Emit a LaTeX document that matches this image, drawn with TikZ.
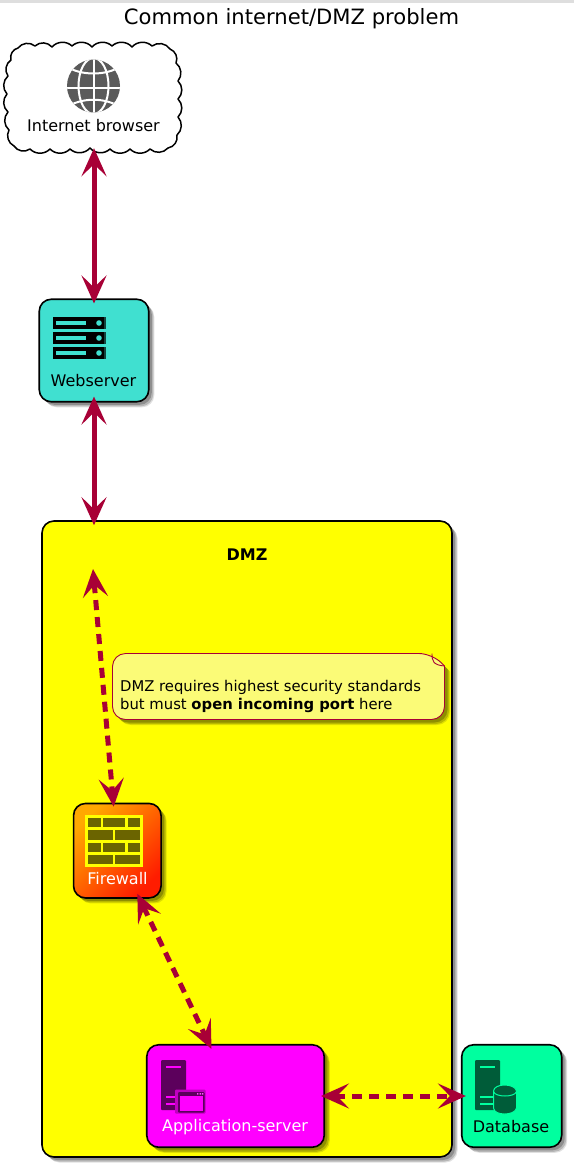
\documentclass[tikz,border=0pt]{standalone}
\usepackage{fontspec}
\setmainfont{DejaVu Sans}
\usetikzlibrary{arrows.meta,shadows}
\definecolor{linkc}{HTML}{A80036}
\definecolor{notec}{HTML}{FBFB77}
\definecolor{webc}{HTML}{40E0D0}
\definecolor{dbc}{HTML}{00FF9F}
\definecolor{mag}{HTML}{FF00FF}
\definecolor{maghalo}{HTML}{C000C0}
\definecolor{yel}{HTML}{FFFF00}
\definecolor{magdark}{HTML}{5C005C}
\definecolor{dbdark}{HTML}{005C39}
\definecolor{brick}{HTML}{6B6400}
\definecolor{globec}{HTML}{5A5A5A}
\definecolor{fwa}{HTML}{FFA800}
\definecolor{fwb}{HTML}{FF1C00}
\tikzset{
  softshadow/.style={
    drop shadow={shadow xshift=5.5pt,shadow yshift=-5.5pt,opacity=.12,fill=black},
    drop shadow={shadow xshift=4.5pt,shadow yshift=-4.5pt,opacity=.18,fill=black},
    drop shadow={shadow xshift=3pt,shadow yshift=-3pt,opacity=.22,fill=black}},
  boxnode/.style={draw=black,line width=1.6pt,rounded corners=12pt,inner sep=0pt,softshadow},
  lbl/.style={font=\fontsize{16}{18}\selectfont,inner sep=0pt},
  solidlink/.style={linkc,line width=5pt,{Stealth[length=28pt,width=25pt,inset=12pt]}-{Stealth[length=28pt,width=25pt,inset=12pt]}},
  dashlink/.style={solidlink,dash pattern=on 10pt off 7pt}
}
\begin{document}
\begin{tikzpicture}[x=1pt,y=-1pt]
\useasboundingbox (0,0) rectangle (574,1168);
\fill[white] (0,0) rectangle (574,1168);
\fill[black!13] (0,0) rectangle (574,3);
\node[font=\fontsize{21.1}{24}\selectfont,inner sep=0pt] (title) at (291.5,18.5) {Common internet/DMZ problem};
% cloud
\draw[black,line width=1.5pt,fill=white,line join=round]
  (18,48) foreach \p/\q in {35/46,52/47,72/46,92/47,112/46,132/47,152/46,170/49,176/63,178/81,178/99,178/117,177/135,168/148,150/149,130/149,110/149,90/148,70/149,50/149,30/149,14/146,9/130,8/112,7/94,8/76,11/60,18/48} { to[bend left=46] (\p,\q) };
\node[inner sep=0pt,minimum width=170pt,minimum height=106pt] (inet) at (94,99) {};
\fill[globec] (93.5,86) circle[radius=26.5pt];
\begin{scope}
\clip (93.5,86) circle[radius=26.5pt];
\draw[white,line width=2pt] (93.5,55) -- (93.5,117);
\draw[white,line width=2pt] (93.5,86) ellipse[x radius=15pt,y radius=28pt];
\draw[white,line width=2pt] (60,88) -- (128,88);
\draw[white,line width=2pt] (66,66) .. controls (80,76) and (107,76) .. (121,66);
\draw[white,line width=2pt] (66,108) .. controls (80,97) and (107,97) .. (121,108);
\end{scope}
\node[lbl] (inetl) at (93.5,126) {Internet browser};
% webserver
\node[boxnode,fill=webc,minimum width=109.5pt,minimum height=102.5pt] (web) at (94,350.5) {};
\foreach \yy in {317,332,347}{
  \fill[black!70!webc] (53,\yy) rectangle (106,\yy+12);
  \fill[black] (53,\yy) rectangle (104,\yy+12);
  \fill[webc] (56,\yy+4) rectangle (86,\yy+8);
  \fill[webc] (99,\yy+6) circle[radius=2.8pt];
}
\node[lbl] (webl) at (93.5,381) {Webserver};
% DMZ
\node[boxnode,fill=yel,minimum width=410pt,minimum height=636pt] (dmz) at (247,839) {};
\node[font=\fontsize{16}{18}\selectfont\bfseries,inner sep=0pt] (dmzl) at (247,555) {DMZ};
\coordinate (dmzin) at (93,569);
% note
\draw[linkc,line width=.9pt,fill=notec,softshadow,rounded corners=13pt]
  (112.5,653.5) -- (432,653.5) [sharp corners] -- (444.5,666) [rounded corners=13pt] -- (444.5,719.5) -- (112.5,719.5) -- cycle;
\draw[linkc,line width=.9pt] (432,653.5) .. controls (432,661) and (433,665) .. (444.5,666);
\node[font=\fontsize{14.8}{18}\selectfont,inner sep=0pt,align=left,anchor=north west] (note) at (120,680.5) {DMZ requires highest security standards\\but must \textbf{open incoming port} here};
% firewall
\node[boxnode,left color=fwa,right color=fwb,shading angle=45,minimum width=87.5pt,minimum height=94.5pt] (fw) at (117.3,850.7) {};
\fill[yel] (85,815) rectangle (143,867);
\foreach \yy/\hh in {818/9.3,842.8/9.5}{
  \fill[brick] (88.3,\yy) rectangle (100.7,\yy+\hh);
  \fill[brick] (103,\yy) rectangle (125.3,\yy+\hh);
  \fill[brick] (128,\yy) rectangle (140,\yy+\hh);
}
\foreach \yy/\hh in {830/10,855/9.3}{
  \fill[brick] (88.3,\yy) rectangle (113.3,\yy+\hh);
  \fill[brick] (115,\yy) rectangle (140,\yy+\hh);
}
\node[lbl,text=white] (fwl) at (117.5,878.5) {Firewall};
% app
\node[boxnode,fill=mag,minimum width=177.5pt,minimum height=102.5pt] (app) at (235.5,1096) {};
\fill[magdark,rounded corners=1pt] (161,1060) rectangle (186,1110);
\fill[mag] (165.7,1065.7) rectangle (181,1067.7);
\fill[mag] (165.7,1096) rectangle (175,1098);
\fill[mag] (165.7,1102.5) rectangle (175,1104.5);
\fill[maghalo,rounded corners=1pt] (175,1089.5) rectangle (205.5,1113.5);
\fill[magdark,rounded corners=1pt] (178,1092) rectangle (204.5,1112.5);
\fill[mag] (179.5,1096) rectangle (203,1111);
\fill[mag!70!white] (197,1093.2) rectangle (198.4,1094.6) (199.6,1093.2) rectangle (201,1094.6) (202,1093.2) rectangle (203.4,1094.6);
\node[lbl,text=white] (appl) at (235,1127) {Application-server};
% database
\node[boxnode,fill=dbc,minimum width=100pt,minimum height=102.5pt] (db) at (511.7,1096) {};
\fill[dbdark,rounded corners=1pt] (475,1060) rectangle (500,1110);
\fill[dbc] (480,1065.7) rectangle (495,1067.7);
\fill[dbc] (480,1096) rectangle (493,1098);
\fill[dbc] (480,1102.5) rectangle (493,1104.5);
\draw[dbc,line width=1pt,fill=dbdark] (493.5,1091) -- (493.5,1108) .. controls (494,1116) and (515,1116) .. (516.5,1108) -- (516.5,1091) .. controls (515,1083) and (494,1083) .. (493.5,1091) -- cycle;
\draw[dbc,line width=1pt] (493.5,1091.5) .. controls (495,1097.5) and (515,1097.5) .. (516.5,1091.5);
\node[lbl] (dbl) at (511,1127) {Database};
% connectors
\draw[solidlink,shorten <=-4pt,shorten >=-5pt] (inet.south) -- (web.north);
\draw[solidlink,shorten <=-6pt,shorten >=-5pt] (web.south) -- (dmz.north -| web.south);
\draw[dashlink,shorten >=-4pt] (dmzin) -- ([xshift=-4pt]fw.north);
\draw[dashlink] ([xshift=20pt,yshift=5pt]fw.south) -- ([xshift=-24pt,yshift=-5pt]app.north);
\draw[dashlink,shorten <=-4pt,shorten >=-5pt] (app.east) -- (db.west);
\end{tikzpicture}
\end{document}
